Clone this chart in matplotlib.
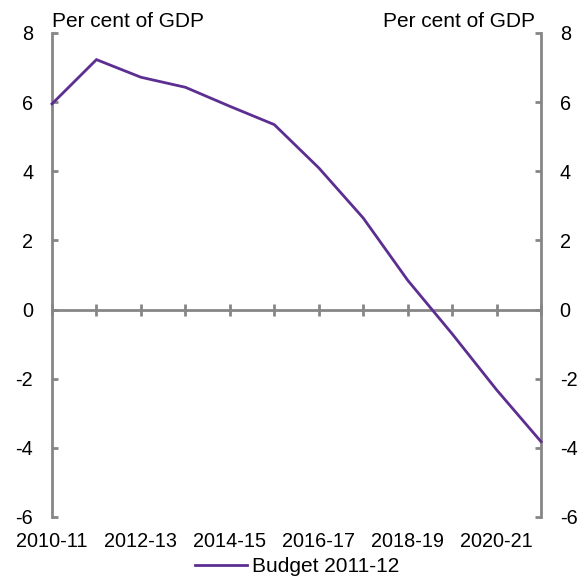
import matplotlib
matplotlib.use("Agg")
import matplotlib.pyplot as plt
import numpy as np

plt.rcParams['font.family'] = ['Liberation Sans', 'DejaVu Sans']

categories = ["2010-11", "2011-12", "2012-13", "2013-14", "2014-15", "2015-16",
              "2016-17", "2017-18", "2018-19", "2019-20", "2020-21", "2021-22"]
budget_2011_12 = [5.95, 7.23, 6.72, 6.43, 5.88, 5.35, 4.10, 2.65, 0.85, -0.70, -2.32, -3.82]
y_ticks = [-6, -4, -2, 0, 2, 4, 6, 8]
series_name = "Budget 2011-12"
unit_label = "Per cent of GDP"

LINE = '#5C2E91'
GREY = '#868686'
FS = 14.3

W, H = 586, 581
fig = plt.figure(figsize=(W / 100, H / 100), dpi=100)
ax = fig.add_axes([52 / W, (H - 517) / H, (541 - 52) / W, (517 - 33) / H])

x = np.arange(len(categories))
line, = ax.plot(x, budget_2011_12, color=LINE, lw=2.0, solid_joinstyle='miter',
                label=series_name, clip_on=False, zorder=3)

ax.set_xlim(0, len(categories) - 1)
ax.set_ylim(-6, 8)

ax.spines['top'].set_visible(False)
for s in ['left', 'right', 'bottom']:
    ax.spines[s].set_color(GREY)
    ax.spines[s].set_linewidth(2.0)
ax.spines['bottom'].set_position(('data', 0))

ax.set_xticks(x)
ax.tick_params(axis='x', direction='inout', length=9, width=2, color=GREY,
               labelbottom=False)
ax.set_yticks(y_ticks)
ax.set_yticklabels([str(v) for v in y_ticks])
ax.tick_params(axis='y', direction='in', length=4.5, width=2, color=GREY,
               left=True, right=True, labelleft=True, labelright=True,
               labelsize=FS, pad=13.5)

# Category labels along the bottom edge (every second category)
sec = ax.twiny()
sec.set_xlim(ax.get_xlim())
sec.xaxis.set_ticks_position('bottom')
sec.xaxis.set_label_position('bottom')
for s in sec.spines.values():
    s.set_visible(False)
sec.set_xticks(x[::2])
sec.set_xticklabels(categories[::2])
sec.tick_params(axis='x', length=0, labelsize=FS, pad=11)

# Unit labels
fig.text(52 / W, 1 - 26.7 / H, unit_label, ha='left', va='baseline', fontsize=15)
fig.text(535 / W, 1 - 26.7 / H, unit_label, ha='right', va='baseline', fontsize=15)

fig.legend(handles=[line], loc='center left', bbox_to_anchor=(195 / W, 1 - 567 / H),
           frameon=False, fontsize=15, handlelength=2.5, handletextpad=0.25,
           borderpad=0, borderaxespad=0)

fig.savefig('out.png', dpi=100)
